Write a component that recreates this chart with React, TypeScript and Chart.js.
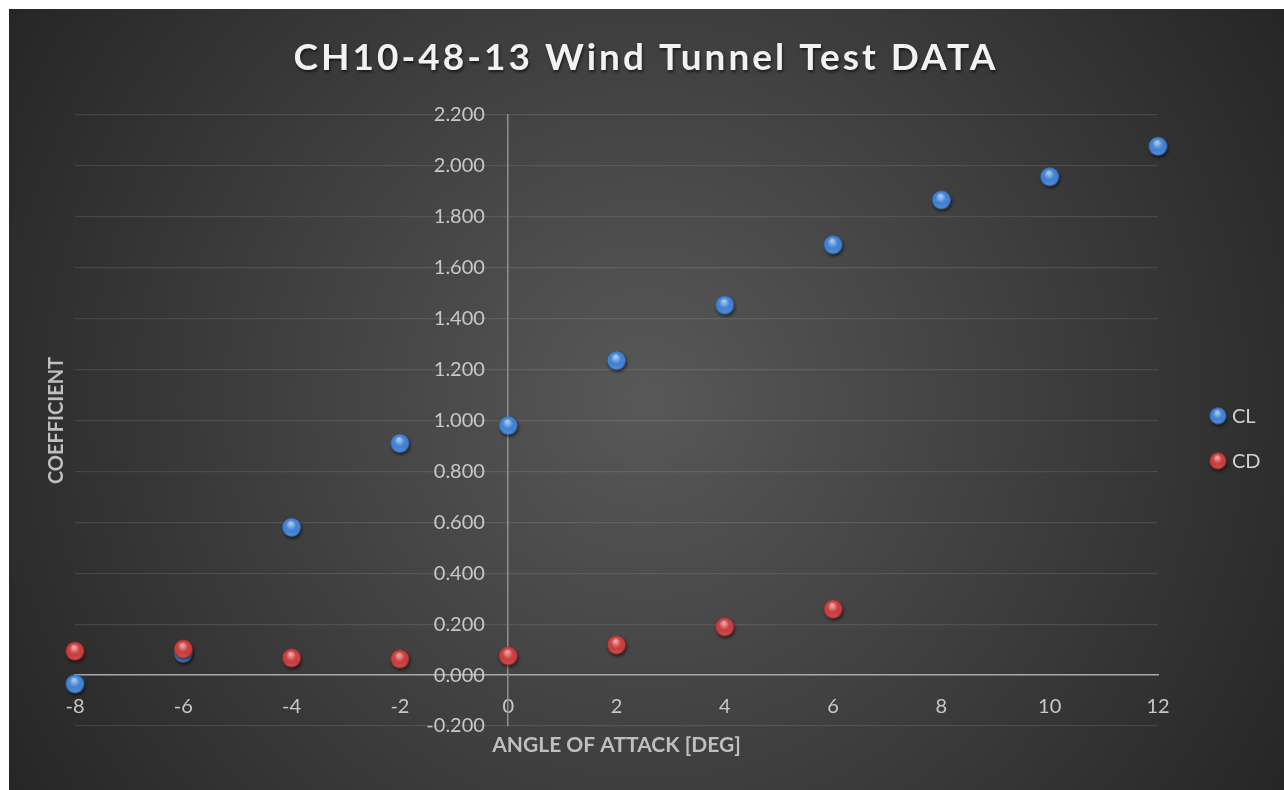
import React, { useEffect, useRef } from "react";
import { Chart, registerables } from "chart.js";

Chart.register(...registerables);

const CHART_TITLE = "CH10-48-13 Wind Tunnel Test DATA";
const X_TITLE = "ANGLE OF ATTACK [DEG]";
const Y_TITLE = "COEFFICIENT";

const clAngles = [-8, -6, -4, -2, 0, 2, 4, 6, 8, 10, 12];
const clValues = [-0.035, 0.086, 0.58, 0.91, 0.98, 1.235, 1.453, 1.69, 1.866, 1.957, 2.077];
const cdAngles = [-8, -6, -4, -2, 0, 2, 4, 6];
const cdValues = [0.094, 0.102, 0.067, 0.063, 0.075, 0.118, 0.189, 0.259];

const seriesNames = ["CL", "CD"];

const xMin = -8;
const xMax = 12;
const xStep = 2;
const yMin = -0.2;
const yMax = 2.2;
const yStep = 0.2;

const W = 1275;
const H = 781;

function makeSphere(light: string, mid: string, dark: string, r: number) {
  const pad = 5;
  const size = Math.ceil(2 * r + pad * 2);
  const c = document.createElement("canvas");
  c.width = size;
  c.height = size;
  const g = c.getContext("2d")!;
  const cx = size / 2;
  const cy = size / 2;
  g.save();
  g.filter = "blur(1.5px)";
  g.fillStyle = "rgba(0,0,0,0.55)";
  g.beginPath();
  g.arc(cx + 1, cy + 2, r, 0, Math.PI * 2);
  g.fill();
  g.restore();
  const grad = g.createRadialGradient(cx - r * 0.1, cy - r * 0.45, r * 0.1, cx, cy, r);
  grad.addColorStop(0, light);
  grad.addColorStop(0.5, mid);
  grad.addColorStop(0.85, mid);
  grad.addColorStop(1, dark);
  g.fillStyle = grad;
  g.beginPath();
  g.arc(cx, cy, r, 0, Math.PI * 2);
  g.fill();
  const rim = g.createLinearGradient(0, cy + r * 0.4, 0, cy + r);
  rim.addColorStop(0, "rgba(255,255,255,0)");
  rim.addColorStop(1, "rgba(255,255,255,0.12)");
  g.fillStyle = rim;
  g.beginPath();
  g.arc(cx, cy, r * 0.92, 0, Math.PI * 2);
  g.fill();
  return c;
}

export default function App() {
  const ref = useRef<HTMLCanvasElement | null>(null);

  useEffect(() => {
    if (!ref.current) return;
    const blue = makeSphere("#a9c9f3", "#4282d2", "#27558f", 9.5);
    const red = makeSphere("#f2a6a6", "#c93e3e", "#862222", 9.5);
    const legendBlue = makeSphere("#a9c9f3", "#4282d2", "#27558f", 8.5);
    const legendRed = makeSphere("#f2a6a6", "#c93e3e", "#862222", 8.5);

    const decor = {
      id: "decor",
      beforeDraw(chart: any) {
        const ctx = chart.ctx as CanvasRenderingContext2D;
        ctx.save();
        const g = ctx.createRadialGradient(W / 2, H / 2, 0, W / 2, H / 2, 760);
        g.addColorStop(0, "#585858");
        g.addColorStop(1, "#252525");
        ctx.fillStyle = g;
        ctx.fillRect(0, 0, W, H);
        ctx.restore();
      },
      afterDraw(chart: any) {
        const ctx = chart.ctx as CanvasRenderingContext2D;
        ctx.save();
        ctx.font = "bold 37px Lato";
        (ctx as any).letterSpacing = "3px";
        ctx.textAlign = "center";
        ctx.textBaseline = "middle";
        ctx.shadowColor = "rgba(0,0,0,0.6)";
        ctx.shadowOffsetX = 1;
        ctx.shadowOffsetY = 2;
        ctx.shadowBlur = 3;
        ctx.fillStyle = "#f2f2f2";
        ctx.fillText(CHART_TITLE, 637, 49);
        ctx.restore();

        ctx.save();
        ctx.font = "bold 21px Lato";
        ctx.fillStyle = "#bfbfbf";
        ctx.textAlign = "center";
        ctx.textBaseline = "middle";
        const ca = chart.chartArea;
        ctx.fillText(X_TITLE, (ca.left + ca.right) / 2, 736);
        ctx.font = "bold 20px Lato";
        ctx.translate(48, (ca.top + ca.bottom) / 2);
        ctx.rotate(-Math.PI / 2);
        ctx.fillText(Y_TITLE, 0, 0);
        ctx.restore();

        ctx.save();
        ctx.font = "20px Lato";
        ctx.fillStyle = "#d0d0d0";
        ctx.textAlign = "left";
        ctx.textBaseline = "middle";
        const items = [
          { img: legendBlue, y: 407 },
          { img: legendRed, y: 452 },
        ];
        items.forEach((it, i) => {
          ctx.drawImage(it.img, 1209 - it.img.width / 2, it.y - it.img.height / 2);
          ctx.fillText(seriesNames[i], 1223, it.y + 1);
        });
        ctx.restore();
      },
    };

    const tickFont = { family: "Lato", size: 20 };

    const chart = new Chart(ref.current, {
      type: "scatter",
      data: {
        datasets: [
          {
            label: seriesNames[0],
            data: clAngles.map((x, i) => ({ x, y: clValues[i] })),
            pointStyle: blue as any,
            pointRadius: 9.5,
            order: 2,
            clip: false as any,
          },
          {
            label: seriesNames[1],
            data: cdAngles.map((x, i) => ({ x, y: cdValues[i] })),
            pointStyle: red as any,
            pointRadius: 9.5,
            order: 1,
            clip: false as any,
          },
        ],
      },
      options: {
        responsive: false,
        animation: false,
        events: [],
        layout: { padding: { left: 66, top: 106, right: 126, bottom: 64 } },
        plugins: {
          legend: { display: false },
          tooltip: { enabled: false },
          title: { display: false },
        },
        scales: {
          x: {
            type: "linear",
            min: xMin,
            max: xMax,
            position: { y: 0 } as any,
            ticks: {
              stepSize: xStep,
              color: "#c8c8c8",
              font: tickFont,
              padding: 19,
              maxRotation: 0,
            },
            grid: { color: "rgba(0,0,0,0)", drawTicks: false },
            border: { display: true, color: "#a8a8a8", width: 1.5 },
          },
          y: {
            type: "linear",
            min: yMin,
            max: yMax,
            position: { x: 0 } as any,
            ticks: { display: false, stepSize: yStep },
            grid: { color: "rgba(255,255,255,0.1)", lineWidth: 1.3, drawTicks: false },
            border: { display: true, color: "#8e8e8e", width: 1.5 },
          },
          yLabels: {
            type: "linear",
            min: yMin,
            max: yMax,
            position: { x: -0.43 } as any,
            ticks: {
              stepSize: yStep,
              color: "#c8c8c8",
              font: tickFont,
              callback: (v: any) => Number(v).toFixed(3),
            },
            grid: { display: false, drawTicks: false },
            border: { display: false },
          },
        },
      },
      plugins: [decor],
    });
    return () => chart.destroy();
  }, []);

  return (
    <div style={{ position: "fixed", left: 9, top: 9, width: W, height: H }}>
      <canvas ref={ref} width={W} height={H} style={{ display: "block" }} />
    </div>
  );
}
